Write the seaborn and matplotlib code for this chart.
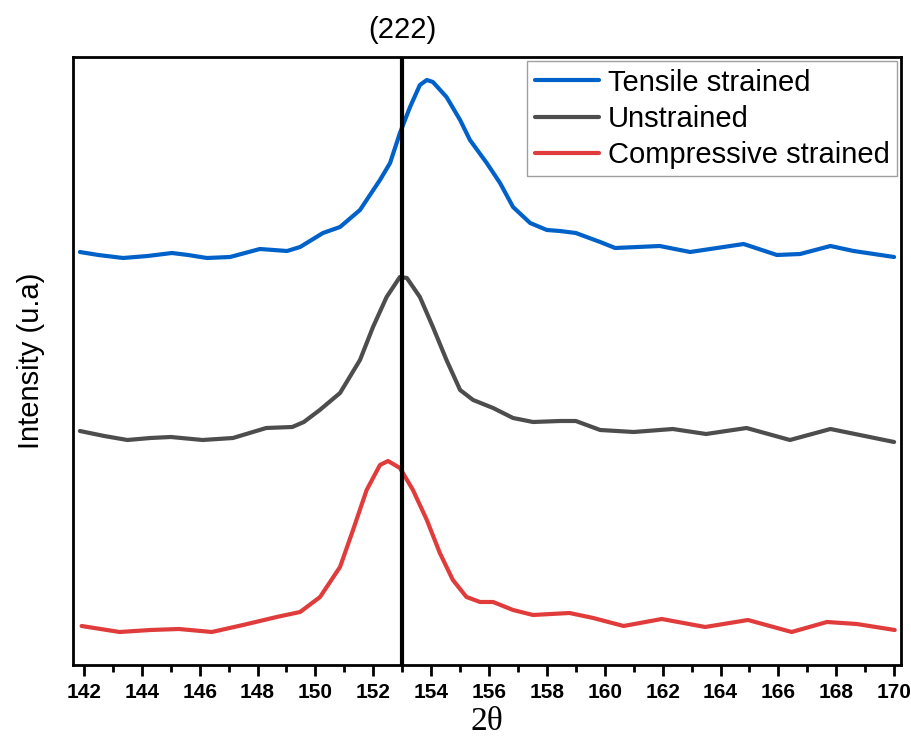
import numpy as np
import pandas as pd
import seaborn as sns
import matplotlib.pyplot as plt
from matplotlib.ticker import MultipleLocator

# values (arbitrary intensity units, stacked curves)
x_tensile = [141.86, 142.5, 143.35, 144.2, 145.04, 145.6, 146.25, 147.05, 148.08, 149.02,
             149.47, 150.26, 150.85, 151.54, 152.23, 152.58, 152.92, 153.27, 153.61, 153.85,
             154.06, 154.53, 155.0, 155.34, 155.92, 156.38, 156.83, 157.42, 158.0, 158.45,
             159.0, 159.84, 160.36, 161.9, 162.95, 164.8, 165.95, 166.75, 167.8, 168.6, 170.0]
y_tensile = [413, 410, 407, 409, 412, 410, 407, 408, 416, 414,
             418, 432, 438, 455, 485, 502, 532, 558, 580, 585,
             583, 568, 545, 525, 502, 482, 458, 442, 435, 434,
             432, 423, 417, 419, 413, 421, 410, 411, 419, 414, 408]

x_unstrained = [141.86, 142.7, 143.5, 144.3, 145.0, 146.1, 147.15, 148.3, 149.2, 149.6,
                150.15, 150.85, 151.54, 151.99, 152.46, 152.92, 153.16, 153.61, 154.06, 154.53,
                155.0, 155.45, 156.14, 156.83, 157.52, 158.45, 159.0, 159.84, 161.0, 162.35,
                163.5, 164.9, 166.4, 167.8, 170.0]
y_unstrained = [234, 229, 225, 227, 228, 225, 227, 237, 238, 243,
                255, 272, 305, 338, 368, 388, 387, 368, 338, 305,
                275, 265, 257, 247, 243, 244, 244, 235, 233, 236,
                231, 237, 225, 236, 223]

x_compressive = [141.92, 143.23, 144.3, 145.28, 146.42, 147.5, 148.66, 149.47, 150.16, 150.85,
                 151.3, 151.77, 152.23, 152.51, 152.92, 153.37, 153.85, 154.3, 154.75, 155.22,
                 155.69, 156.14, 156.83, 157.52, 158.78, 159.6, 160.65, 161.97, 163.47, 164.95,
                 166.46, 167.68, 168.71, 170.02]
y_compressive = [39, 33, 35, 36, 33, 40, 48, 53, 68, 98,
                 135, 175, 200, 204, 197, 175, 145, 112, 85, 68,
                 63, 63, 55, 50, 52, 47, 39, 46, 38, 45,
                 33, 43, 41, 35]

labels = ["Tensile strained", "Unstrained", "Compressive strained"]
colors = ["#0062C8", "#4D4D4D", "#E03C3C"]
peak_pos = 153.0

sns.set_style("white")
plt.rcParams['font.family'] = ['Liberation Sans', 'DejaVu Sans']
plt.rcParams['text.color'] = 'black'
plt.rcParams['axes.labelcolor'] = 'black'
plt.rcParams['xtick.color'] = 'black'

fig = plt.figure(figsize=(9.12, 7.52), dpi=100)
ax = fig.add_axes([0.080, 0.1157, 0.908, 0.8085])

for xs, ys, lab, col in zip([x_tensile, x_unstrained, x_compressive],
                            [y_tensile, y_unstrained, y_compressive], labels, colors):
    df = pd.DataFrame({"x": xs, "y": ys})
    sns.lineplot(data=df, x="x", y="y", ax=ax, color=col, lw=3, label=lab, sort=False,
                 solid_joinstyle="round", solid_capstyle="round")

ax.axvline(peak_pos, color="black", lw=3, zorder=5)
ax.text(peak_pos, 1.045, "(222)", transform=ax.get_xaxis_transform(),
        ha="center", va="center", fontsize=21)

ax.set_xlim(141.62, 170.24)
ax.set_ylim(0, 608)
ax.set_yticks([])
ax.xaxis.set_major_locator(MultipleLocator(2))
ax.xaxis.set_minor_locator(MultipleLocator(1))
ax.tick_params(axis="x", which="major", direction="out", length=8, width=2, bottom=True, pad=5)
ax.tick_params(axis="x", which="minor", direction="out", length=5, width=2, bottom=True)
for lbl in ax.get_xticklabels():
    lbl.set_fontweight('bold')
    lbl.set_fontsize(15)
    lbl.set_color('black')

for sp in ax.spines.values():
    sp.set_color("black")
    sp.set_linewidth(2)

ax.set_xlabel("2θ", fontsize=24, family=['Liberation Serif', 'DejaVu Serif'], labelpad=3)
ax.set_ylabel("Intensity (u.a)", fontsize=21, labelpad=20)

leg = ax.legend(loc="upper right", fontsize=21, frameon=True, fancybox=False,
                handlelength=2.2, handletextpad=0.3, labelspacing=0.28,
                borderpad=0.25, borderaxespad=0.15)
leg.get_frame().set_edgecolor("#888888")
leg.get_frame().set_linewidth(1)
for t in leg.get_texts():
    t.set_color("black")

fig.savefig("out.png", dpi=100)
